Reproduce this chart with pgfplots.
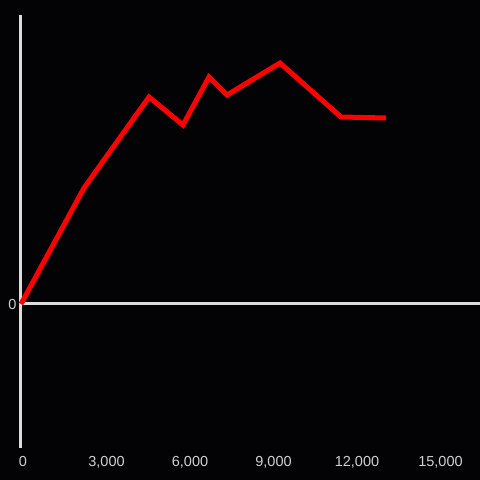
\documentclass[border=0pt]{standalone}
\usepackage{pgfplots}
\pgfplotsset{compat=1.18}
\usepackage{fontspec}
\setmainfont{Liberation Sans}
\definecolor{bg}{HTML}{030205}
\definecolor{axcol}{HTML}{DCDCDC}
\definecolor{lblcol}{HTML}{D0D0D0}
\begin{document}
\begin{tikzpicture}[x=1pt,y=1pt]
\fill[bg] (-21,-32) rectangle (459,448);
\useasboundingbox (-21,-32) rectangle (459,448);
\begin{axis}[
  at={(0,0)}, anchor=south west,
  scale only axis,
  width=459pt, height=433pt,
  xmin=0, xmax=16491,
  ymin=-144, ymax=289,
  axis x line=bottom,
  axis y line=left,
  every outer x axis line/.style={-},
  every outer y axis line/.style={-},
  x axis line style={draw=none,-},
  y axis line style={draw=axcol, line width=3pt,-},
  xtick={0,3000,6000,9000,12000,15000},
  ytick={0},
  major tick length=0pt,
  ymajorgrids=true,
  grid style={draw=axcol, line width=3pt},
  tick label style={font=\fontsize{14.5}{16}\selectfont, text=lblcol},
  /pgf/number format/assume math mode=true,
  /pgf/number format/1000 sep={,},
  scaled x ticks=false,
  xticklabel style={anchor=base, yshift=-18pt, xshift=2pt},
  yticklabel style={yshift=-1pt, xshift=-1pt},
  clip=false,
]
\addplot[color=red, line width=5pt] coordinates {
(0,0) (2263,116) (4599,207) (5820,179) (6754,227) (7401,209) (9305,241) (11497,187) (13114,186)
};
\end{axis}
\end{tikzpicture}
\end{document}
